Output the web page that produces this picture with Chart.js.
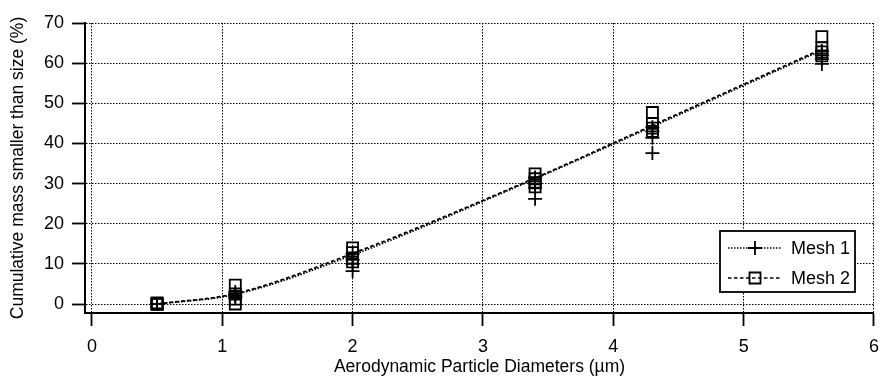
<!DOCTYPE html>
<html>
<head>
<meta charset="utf-8">
<script src="https://cdn.jsdelivr.net/npm/chart.js@4/dist/chart.umd.min.js"></script>
<style>
  html, body { margin: 0; padding: 0; background: #fff; }
  #wrap { width: 889px; height: 380px; }
</style>
</head>
<body>
<div id="wrap"><canvas id="chart" width="889" height="380"></canvas></div>
<script>
// particle sizes where the impactor stages sit (µm)
const sizes = [0.5, 1.1, 2.0, 3.4, 4.3, 5.6];

// Mesh 1 runs (crosses), % cumulative mass
const mesh1RunA = [0, 3.0, 12.5, 31.5, 44.0, 63.0];
const mesh1RunB = [0, 2.5, 11.0, 30.0, 43.0, 62.0];
const mesh1RunC = [0, 2.0, 10.0, 29.0, 41.4, 61.0];
const mesh1RunD = [0, 1.5, 8.2, 26.2, 37.6, 59.8];

// Mesh 2 runs (squares)
const mesh2RunA = [0, 4.7, 14.0, 32.4, 47.7, 66.6];
const mesh2RunB = [0.3, 2.5, 12.8, 31.2, 45.0, 63.8];
const mesh2RunC = [0, 1.2, 11.5, 30.2, 43.8, 62.8];
const mesh2RunD = [0, 0.0, 10.5, 29.2, 43.0, 61.8];

// mean curves
const mesh1Fit = [0, 2.4, 12.2, 31.2, 44.2, 63.2];
const mesh2Fit = [0, 2.6, 12.6, 31.4, 44.5, 63.5];

const xTicks = [0, 1, 2, 3, 4, 5, 6];
const yTicks = [0, 10, 20, 30, 40, 50, 60, 70];

const FONT = "'Liberation Sans', Arial, Helvetica, sans-serif";
const toPoints = vals => vals.map((v, i) => ({ x: sizes[i], y: v }));

const markerSet = (runs, style, radius) => ({
  type: "scatter",
  data: runs.flatMap(toPoints),
  showLine: false,
  pointStyle: style,
  pointRadius: radius,
  pointHoverRadius: radius,
  pointBorderWidth: 1.8,
  pointBorderColor: "#000",
  pointBackgroundColor: "rgba(0,0,0,0)",
  order: 1
});

const fitSet = (vals, dash) => ({
  type: "line",
  data: toPoints(vals),
  borderColor: "#000",
  borderWidth: 1.8,
  borderDash: dash,
  pointRadius: 0,
  cubicInterpolationMode: "monotone",
  fill: false,
  order: 2
});

const mesh1Dash = [1.5, 1.5];
const mesh2Dash = [3.5, 2.5];

const legendBox = {
  id: "legendBox",
  afterDatasetsDraw(chart) {
    const { ctx, chartArea } = chart;
    const x0 = chartArea.right - 154, y0 = chartArea.bottom - 82;
    const w = 135, h = 61;
    ctx.save();
    ctx.fillStyle = "#fff";
    ctx.fillRect(x0, y0, w, h);
    ctx.strokeStyle = "#000";
    ctx.lineWidth = 1.8;
    ctx.strokeRect(x0, y0, w, h);

    const rows = [
      { label: "Mesh 1", dash: mesh1Dash, style: "cross" },
      { label: "Mesh 2", dash: mesh2Dash, style: "rect" }
    ];
    rows.forEach((r, i) => {
      const y = y0 + 17 + i * 30;
      const mx = x0 + 35;
      ctx.setLineDash(r.dash);
      ctx.lineWidth = 1.5;
      ctx.beginPath();
      ctx.moveTo(x0 + 8, y);
      ctx.lineTo(x0 + 62, y);
      ctx.stroke();
      ctx.setLineDash([]);
      ctx.lineWidth = 1.8;
      ctx.beginPath();
      if (r.style === "cross") {
        ctx.moveTo(mx - 7, y); ctx.lineTo(mx + 7, y);
        ctx.moveTo(mx, y - 7); ctx.lineTo(mx, y + 7);
      } else {
        ctx.rect(mx - 5.5, y - 5.5, 11, 11);
      }
      ctx.stroke();
      ctx.fillStyle = "#000";
      ctx.font = "18px " + FONT;
      ctx.textBaseline = "middle";
      ctx.textAlign = "left";
      ctx.fillText(r.label, x0 + 71, y + 1);
    });
    ctx.restore();
  }
};

new Chart(document.getElementById("chart"), {
  type: "scatter",
  data: {
    datasets: [
      fitSet(mesh1Fit, mesh1Dash),
      fitSet(mesh2Fit, mesh2Dash),
      markerSet([mesh1RunA, mesh1RunB, mesh1RunC, mesh1RunD], "cross", 7),
      markerSet([mesh2RunA, mesh2RunB, mesh2RunC, mesh2RunD], "rect", 7.8)
    ]
  },
  options: {
    responsive: false,
    animation: false,
    layout: { padding: { top: 23, right: 9, left: 0, bottom: 0 } },
    plugins: { legend: { display: false }, tooltip: { enabled: false } },
    scales: {
      x: {
        type: "linear",
        min: -0.053,
        max: 6,
        afterBuildTicks: s => { s.ticks = xTicks.map(v => ({ value: v })); },
        afterFit: s => { s.height = 67; },
        grid: {
          color: "#000",
          lineWidth: 1,
          tickLength: 13,
          tickColor: "#000",
          tickWidth: 1.8,
          tickBorderDash: []
        },
        border: { display: true, color: "#000", width: 2, dash: [1.5, 1.5] },
        ticks: { color: "#000", padding: 10, font: { family: FONT, size: 18 } },
        title: {
          display: true,
          text: "Aerodynamic Particle Diameters (µm)",
          color: "#000",
          font: { family: FONT, size: 17.5 },
          padding: { top: 0, bottom: 2 }
        }
      },
      y: {
        type: "linear",
        min: -2.24,
        max: 70,
        afterBuildTicks: s => { s.ticks = yTicks.map(v => ({ value: v })); },
        afterFit: s => { s.width = 85; },
        grid: {
          color: "#000",
          lineWidth: 1,
          tickLength: 13,
          tickColor: "#000",
          tickWidth: 1.8,
          tickBorderDash: []
        },
        border: { display: true, color: "#000", width: 2, dash: [1.5, 1.5] },
        ticks: { color: "#000", padding: 8, font: { family: FONT, size: 18 } },
        title: {
          display: true,
          text: "Cumulative mass smaller than size (%)",
          color: "#000",
          font: { family: FONT, size: 17.5 },
          padding: { top: 8, bottom: 0 }
        }
      }
    }
  },
  plugins: [legendBox]
});
</script>
</body>
</html>
